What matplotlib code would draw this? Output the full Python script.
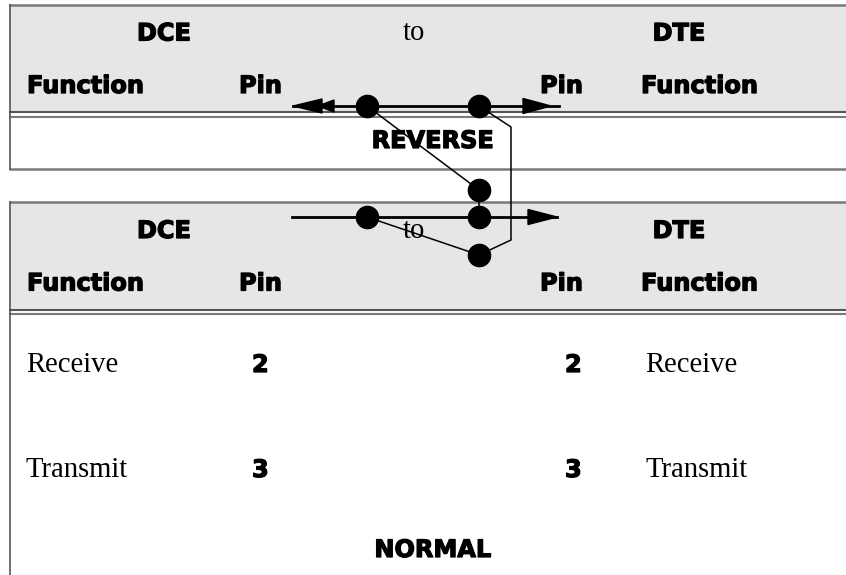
import matplotlib.pyplot as plt
import matplotlib.patheffects as pe
from matplotlib.patches import Rectangle, Polygon

# ---- data (pixel layout of the diagram) ----
W, H = 846, 575
box_tops = [4.5, 202]          # top border of REVERSE and NORMAL boxes
head_h = 107.5                 # height of grey header band
box_bottoms = [169, None]      # NORMAL box runs off the bottom

header_words = ['DCE', 'to', 'DTE']
header_x = [164, 414, 679]
column_words = ['Function', 'Pin', 'Pin', 'Function']
column_x = [27, 239, 540, 641]

functions = ['Receive', 'Transmit']
pins = ['2', '3']
row_base = [372, 477]
left_func_x, left_pin_x = 26, 252
right_pin_x, right_func_x = 565, 645

captions = ['REVERSE', 'NORMAL']
caption_base = [148, 557]
caption_x = 433

# connector drawing
bus_y = [106, 217]
bus_x = [(293, 559), (292, 557)]
dots = [(367, 106), (479, 106), (479, 190), (367, 217), (479, 217), (479, 255)]
wires = [
    [(367, 106), (479, 190)],
    [(479, 106), (511, 127), (511, 240), (479, 255)],
    [(367, 217), (479, 255)],
    [(479, 190), (479, 217)],
]
# arrowheads: tip x, y, length, half width, direction (+1 right, -1 left)
heads = [(293, 106, 29, 7, -1), (318, 106, 16, 6, -1),
         (551, 106, 28, 7.5, 1), (557, 217, 29, 7.5, 1)]

heavy = [pe.withStroke(linewidth=0.9, foreground='black')]
BOLD = dict(family=['DejaVu Sans'], fontweight='bold', fontsize=17.3, path_effects=heavy)
SERIF = dict(family=['Liberation Serif', 'DejaVu Serif'], fontsize=20.6)
GREY_FILL = '#e6e6e6'
LINE = '#7a7a7a'

fig = plt.figure(figsize=(W / 100, H / 100), dpi=100)
ax = fig.add_axes([0, 0, 1, 1])
ax.set_xlim(0, W)
ax.set_ylim(H, 0)
ax.axis('off')

for i, top in enumerate(box_tops):
    sep = top + head_h
    ax.add_patch(Rectangle((9.5, top), W, head_h, facecolor=GREY_FILL, edgecolor='none', zorder=0))
    ax.plot([9.5, W], [top, top], color=LINE, lw=1.8, zorder=1)
    ax.plot([9.5, W], [sep, sep], color='#555555', lw=1.5, zorder=1)
    ax.plot([9.5, W], [sep + 4.5, sep + 4.5], color=LINE, lw=1.5, zorder=1)
    bottom = box_bottoms[i] if box_bottoms[i] is not None else H + 5
    if box_bottoms[i] is not None:
        ax.plot([9.5, W], [bottom, bottom], color=LINE, lw=1.8, zorder=1)
    ax.plot([9.5, 9.5], [top, bottom], color='#555555', lw=1.2, zorder=1)

    # header texts
    for word, x in zip(header_words, header_x):
        style = SERIF if word == 'to' else BOLD
        ax.text(x, top + 36, word, ha='center', va='baseline', zorder=2, **style)
    for word, x in zip(column_words, column_x):
        ax.text(x, top + 88.5, word, ha='left', va='baseline', zorder=2, **BOLD)
    ax.text(caption_x, caption_base[i], captions[i], ha='center', va='baseline', zorder=2, **BOLD)

for f, p, y in zip(functions, pins, row_base):
    ax.text(left_func_x, y, f, ha='left', va='baseline', **SERIF)
    ax.text(left_pin_x, y, p, ha='left', va='baseline', **BOLD)
    ax.text(right_pin_x, y, p, ha='left', va='baseline', **BOLD)
    ax.text(right_func_x, y, f, ha='left', va='baseline', **SERIF)

# connectors
for y, (x0, x1) in zip(bus_y, bus_x):
    ax.plot([x0, x1], [y, y], color='black', lw=2, zorder=3)
for w in wires:
    xs, ys = zip(*w)
    ax.plot(xs, ys, color='black', lw=1.1, zorder=3)
for tx, ty, ln, hw, d in heads:
    ax.add_patch(Polygon([(tx, ty), (tx - d * ln, ty - hw), (tx - d * ln, ty + hw)],
                         closed=True, facecolor='black', edgecolor='black', zorder=4))
dx, dy = zip(*dots)
ax.plot(dx, dy, 'o', color='black', markersize=16, zorder=5)

fig.savefig('out.png', dpi=100)
